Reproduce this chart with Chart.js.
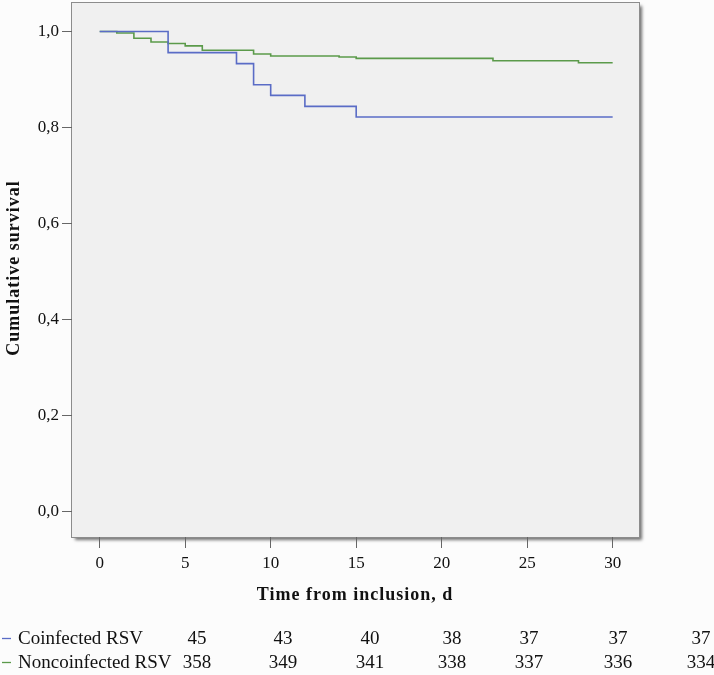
<!DOCTYPE html>
<html>
<head>
<meta charset="utf-8">
<script src="https://cdn.jsdelivr.net/npm/chart.js@4"></script>
<style>
  html, body { margin: 0; padding: 0; background: #fcfcfc; }
  #wrap { width: 714px; height: 675px; }
</style>
</head>
<body>
<div id="wrap"><canvas id="c" width="714" height="675"></canvas></div>
<script>
// ---- Data ----
const coinfDays = [0, 4, 8, 9, 10, 12, 15, 30];
const coinfSurv = [1.0, 0.956, 0.933, 0.889, 0.867, 0.844, 0.822, 0.822];
const noncoinfDays = [0, 1, 2, 3, 4, 5, 6, 9, 10, 14, 15, 23, 28, 30];
const noncoinfSurv = [1.0, 0.997, 0.986, 0.978, 0.975, 0.970, 0.961, 0.953, 0.949, 0.947, 0.944, 0.939, 0.935, 0.935];
const xTickValues = [0, 5, 10, 15, 20, 25, 30];
const yTickValues = [0, 0.2, 0.4, 0.6, 0.8, 1.0];
const seriesNames = ['Coinfected RSV', 'Noncoinfected RSV'];
const coinfAtRisk = [45, 43, 40, 38, 37, 37, 37];
const noncoinfAtRisk = [358, 349, 341, 338, 337, 336, 334];
const xTitle = 'Time from inclusion, d';
const yTitle = 'Cumulative survival';

// ---- Layout / style ----
const BLUE = '#5a6cc6';
const GREEN = '#5b9a4a';
const FONT = '"Liberation Serif", "Times New Roman", serif';
const riskCols = [197, 283, 370, 452, 529, 618, 701];
const riskRowsBaseline = [644, 668];

const toPts = (xs, ys) => xs.map((x, i) => ({ x: x, y: ys[i] }));

const framePlugin = {
  id: 'frame',
  beforeDraw(chart) {
    const { ctx, chartArea: a } = chart;
    ctx.save();
    ctx.shadowColor = 'rgba(0,0,0,0.55)';
    ctx.shadowBlur = 3;
    ctx.shadowOffsetX = 3;
    ctx.shadowOffsetY = 3;
    ctx.fillStyle = '#f0f0f0';
    ctx.fillRect(a.left, a.top, a.right - a.left, a.bottom - a.top);
    ctx.restore();
    ctx.save();
    ctx.strokeStyle = '#8c8c8c';
    ctx.lineWidth = 1;
    ctx.strokeRect(a.left - 0.5, a.top - 0.5, a.right - a.left + 1, a.bottom - a.top + 1);
    ctx.restore();
  },
  afterDraw(chart) {
    const { ctx, chartArea: a } = chart;
    ctx.save();
    ctx.fillStyle = '#111';
    ctx.font = 'bold 18px ' + FONT;
    if ('letterSpacing' in ctx) ctx.letterSpacing = '1px';
    ctx.textAlign = 'center';
    ctx.textBaseline = 'alphabetic';
    ctx.fillText(xTitle, (a.left + a.right) / 2 - 0.5, 600);
    ctx.translate(19, 268);
    ctx.rotate(-Math.PI / 2);
    ctx.fillText(yTitle, 0, 0);
    ctx.restore();

    // risk table
    ctx.save();
    ctx.font = '19px ' + FONT;
    ctx.fillStyle = '#111';
    ctx.textBaseline = 'alphabetic';
    const rows = [coinfAtRisk, noncoinfAtRisk];
    const cols = [BLUE, GREEN];
    rows.forEach((vals, r) => {
      const base = riskRowsBaseline[r];
      ctx.strokeStyle = cols[r];
      ctx.lineWidth = 1.3;
      ctx.beginPath();
      ctx.moveTo(2, base - 5.5);
      ctx.lineTo(11, base - 5.5);
      ctx.stroke();
      ctx.textAlign = 'left';
      ctx.fillText(seriesNames[r], 18, base);
      ctx.textAlign = 'center';
      vals.forEach((v, i) => ctx.fillText(String(v), riskCols[i], base));
    });
    ctx.restore();
  }
};

new Chart(document.getElementById('c'), {
  type: 'line',
  data: {
    datasets: [
      { label: seriesNames[0], data: toPts(coinfDays, coinfSurv), borderColor: BLUE, borderWidth: 1.6, stepped: 'before', pointRadius: 0, fill: false },
      { label: seriesNames[1], data: toPts(noncoinfDays, noncoinfSurv), borderColor: GREEN, borderWidth: 1.6, stepped: 'before', pointRadius: 0, fill: false }
    ]
  },
  options: {
    responsive: false,
    animation: false,
    layout: { padding: { left: 0, top: 3, right: 75, bottom: 0 } },
    plugins: { legend: { display: false }, tooltip: { enabled: false } },
    scales: {
      x: {
        type: 'linear',
        min: -1.62,
        max: 31.54,
        afterBuildTicks: (s) => { s.ticks = xTickValues.map(v => ({ value: v })); },
        afterFit: (s) => { s.height = 138; s.paddingLeft = 0; s.paddingRight = 0; },
        border: { display: false },
        grid: { drawOnChartArea: false, drawTicks: true, tickLength: 11, color: '#666', lineWidth: 1 },
        ticks: { color: '#111', font: { family: FONT, size: 17 }, padding: 5, maxRotation: 0, autoSkip: false }
      },
      y: {
        type: 'linear',
        min: -0.0531,
        max: 1.0594,
        afterBuildTicks: (s) => { s.ticks = yTickValues.map(v => ({ value: v })); },
        afterFit: (s) => { s.width = 72; s.paddingTop = 0; s.paddingBottom = 0; },
        border: { display: false },
        grid: { drawOnChartArea: false, drawTicks: true, tickLength: 10, color: '#666', lineWidth: 1 },
        ticks: { color: '#111', font: { family: FONT, size: 17 }, padding: 3, autoSkip: false,
                 callback: (v) => Number(v).toFixed(1).replace('.', ',') }
      }
    }
  },
  plugins: [framePlugin]
});
</script>
</body>
</html>
